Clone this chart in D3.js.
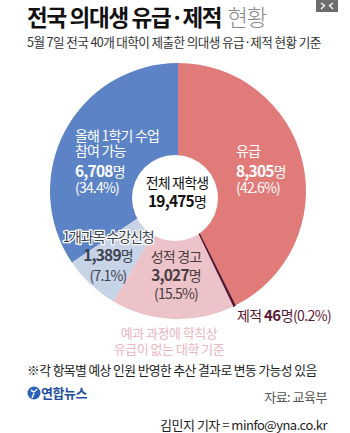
<!DOCTYPE html>
<html><head><meta charset="utf-8">
<script src="https://cdn.jsdelivr.net/npm/d3@7"></script>
<style>
html,body{margin:0;padding:0;background:#fff;}
svg{display:block;font-family:"Noto Sans CJK KR","Noto Sans",sans-serif;}
</style></head>
<body>
<svg id="c" width="350" height="433"></svg>
<script>
const categories = ["유급", "제적", "성적 경고", "1개과목 수강신청", "올해 1학기 수업 참여 가능"];
const counts = [8305, 46, 3027, 1389, 6708];
const percents = ["42.6%", "0.2%", "15.5%", "7.1%", "34.4%"];
const colors = ["#e07b79", "#4e1530", "#ecc3c9", "#c7d3e7", "#5b83c6"];
const total = 19475;

const svg = d3.select("#c");
const fmt = d3.format(",");

// title
const t = svg.append("text").attr("x", 27).attr("y", 26).attr("font-size", 22.5).attr("font-weight", 700).attr("fill", "#111").attr("letter-spacing", -1.3);
t.append("tspan").text("전국 의대생 유급·제적");
t.append("tspan").attr("font-weight", 300).attr("fill", "#8a8a8a").attr("dx", 6).text("현황");

svg.append("text").attr("x", 27).attr("y", 47).attr("font-size", 12.6).attr("fill", "#333").attr("letter-spacing", -0.6)
  .text("5월 7일 전국 40개 대학이 제출한 의대생 유급·제적 현황 기준");

// expand icon
svg.append("rect").attr("x", 316).attr("y", 0).attr("width", 22).attr("height", 12).attr("fill", "#6d6d6d");
svg.append("path").attr("d", "M321,9 L325,5 M333,9 L329,5 M321,3 L325,6 M333,3 L329,6").attr("stroke", "#fff").attr("stroke-width", 1.2);

// pie
const cx = 178, cy = 191, R = 128;
const pie = d3.pie().sort(null).value(d => d)(counts);
const arc = d3.arc().innerRadius(0).outerRadius(R);
const g = svg.append("g").attr("transform", `translate(${cx},${cy})`);
g.selectAll("path").data(pie).join("path")
  .attr("d", arc)
  .attr("fill", (d, i) => colors[i])
  .attr("stroke", (d, i) => i === 1 ? colors[1] : "none")
  .attr("stroke-width", (d, i) => i === 1 ? 1.2 : 0);

// inner circle
svg.append("circle").attr("cx", 175).attr("cy", 198).attr("r", 43).attr("fill", "#fff");

function label(x, y, lines, anchor, fill, halo, ls) {
  const txt = svg.append("text").attr("x", x).attr("text-anchor", anchor).attr("fill", fill).attr("letter-spacing", ls == null ? -0.8 : ls);
  if (halo) txt.attr("stroke", "#fff").attr("stroke-width", 2.5).attr("paint-order", "stroke").attr("stroke-linejoin", "round");
  lines.forEach(l => {
    const ts = txt.append("tspan").attr("x", x).attr("y", y + l.dy).attr("font-size", l.size).attr("font-weight", l.bold ? 700 : 400);
    if (l.num) {
      ts.append("tspan").attr("font-weight", 700).attr("font-size", 15.5).text(l.num);
      ts.append("tspan").attr("font-weight", 400).attr("font-size", 14).text("명");
    } else ts.text(l.text);
  });
}

// 유급
label(236, 0, [
  {dy: 156, size: 14, text: categories[0]},
  {dy: 177, num: fmt(counts[0])},
  {dy: 193, size: 14, text: "(" + percents[0] + ")"}
], "start", "#fff");

// 수업 참여 가능
label(75, 0, [
  {dy: 141, size: 14, text: "올해 1학기 수업"},
  {dy: 156, size: 14, text: "참여 가능"},
  {dy: 177, num: fmt(counts[4])},
  {dy: 193, size: 14, text: "(" + percents[4] + ")"}
], "start", "#fff");

// center
label(177, 0, [
  {dy: 188, size: 14, text: "전체 재학생"},
  {dy: 207, num: fmt(total)}
], "middle", "#111");

// 1개과목
label(108, 0, [
  {dy: 242, size: 14, text: categories[3]}
], "middle", "#3d4250", true, -1.1);
label(108, 0, [
  {dy: 261, num: fmt(counts[3])},
  {dy: 281, size: 14, text: "(" + percents[3] + ")"}
], "middle", "#3d4250");

// 성적 경고
label(176, 0, [
  {dy: 262, size: 14, text: categories[2]},
  {dy: 281, num: fmt(counts[2])},
  {dy: 299, size: 14, text: "(" + percents[2] + ")"}
], "middle", "#4a3c40");

// 제적
const j = svg.append("text").attr("x", 237).attr("y", 321).attr("font-size", 14).attr("fill", "#5a1a36").attr("letter-spacing", -0.6);
j.append("tspan").text("제적 ");
j.append("tspan").attr("font-weight", 700).attr("font-size", 15).text(counts[1]);
j.append("tspan").text("명(" + percents[1] + ")");

// footnote pink
svg.append("text").attr("x", 169).attr("y", 338).attr("text-anchor", "middle").attr("font-size", 13).attr("fill", "#ebb6bf").attr("letter-spacing", -0.5).text("예과 과정에 학칙상");
svg.append("text").attr("x", 169).attr("y", 354).attr("text-anchor", "middle").attr("font-size", 13).attr("fill", "#ebb6bf").attr("letter-spacing", -0.5).text("유급이 없는 대학 기준");

svg.append("text").attr("x", 27).attr("y", 375).attr("font-size", 12.8).attr("fill", "#222").attr("letter-spacing", -0.6)
  .text("※각 항목별 예상 인원 반영한 추산 결과로 변동 가능성 있음");

// logo
svg.append("circle").attr("cx", 34).attr("cy", 393).attr("r", 6.5).attr("fill", "#2a62b8");
svg.append("path").attr("d", "M31,390 Q34,394 37,389 M34,393 L32,398").attr("stroke", "#fff").attr("stroke-width", 1.4).attr("fill", "none");
svg.append("text").attr("x", 41).attr("y", 398).attr("font-size", 13).attr("font-weight", 700).attr("fill", "#1d4f9e").attr("letter-spacing", -0.5).text("연합뉴스");

svg.append("text").attr("x", 327).attr("y", 402).attr("text-anchor", "end").attr("font-size", 13).attr("fill", "#555").attr("letter-spacing", -0.5).text("자료: 교육부");
svg.append("text").attr("x", 327).attr("y", 430).attr("text-anchor", "end").attr("font-size", 13).attr("fill", "#222").attr("letter-spacing", -0.5).text("김민지 기자 = minfo@yna.co.kr");
</script>
</body></html>
